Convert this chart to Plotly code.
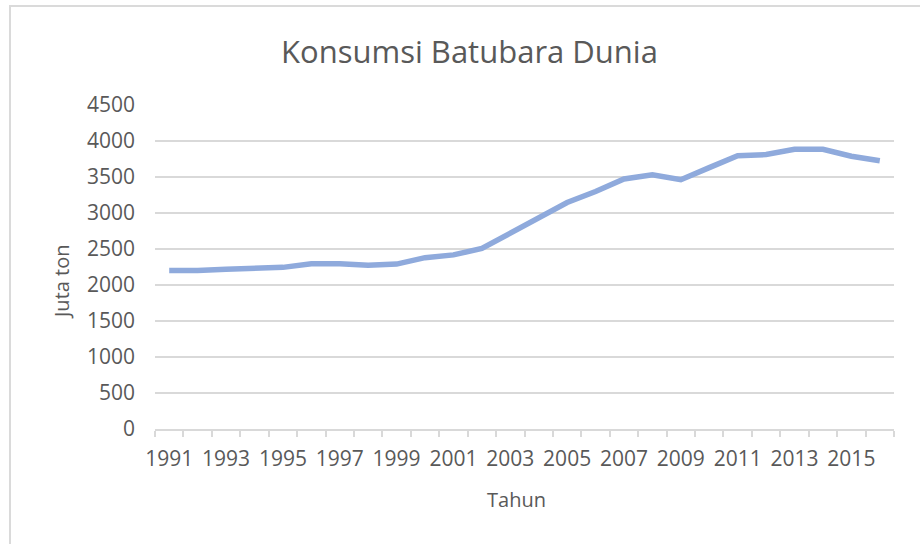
import plotly.graph_objects as go

years = list(range(1991, 2017))
consumption = [2200, 2200, 2220, 2225, 2245, 2295, 2295, 2275, 2290, 2380, 2418, 2508,
               2720, 2916, 3145, 3298, 3472, 3530, 3462, 3630, 3795, 3812, 3884, 3884,
               3788, 3725]
y_ticks = [0, 500, 1000, 1500, 2000, 2500, 3000, 3500, 4000, 4500]
x_label_years = list(range(1991, 2017, 2))

W, H = 920, 544
L, R, T, B = 155, 894, 105, 429
pw, ph = R - L, B - T

def px(x):
    return (x - L) / pw

def py(y):
    return (B - y) / ph

FONT = "Open Sans"
GREY = "#595959"

fig = go.Figure()
fig.add_trace(go.Scatter(
    x=years, y=consumption, mode="lines",
    line=dict(color="#8faadc", width=5.5, shape="linear"),
    hoverinfo="x+y", showlegend=False,
))

fig.update_layout(
    width=W, height=H,
    margin=dict(l=L, r=W - R, t=T, b=H - B, autoexpand=False),
    paper_bgcolor="white", plot_bgcolor="white",
    font=dict(family=FONT, color=GREY, size=18),
    title=dict(text="Konsumsi Batubara Dunia", x=469.5 / W, xanchor="center",
               y=1 - 52 / H, yanchor="middle",
               font=dict(family=FONT, size=31, color=GREY)),
    xaxis=dict(
        range=[1990.5, 2016.5], tickmode="array", tickvals=x_label_years,
        ticktext=[str(v) for v in x_label_years],
        ticks="", showgrid=False, zeroline=False,
        showline=True, linecolor="#d9d9d9", linewidth=2,
        tickfont=dict(family=FONT, size=21, color=GREY),
        ticklabelstandoff=10,
        minor=dict(tick0=1990.5, dtick=1, ticks="outside", ticklen=6,
                   tickcolor="#d9d9d9", tickwidth=2, showgrid=False),
    ),
    yaxis=dict(
        range=[0, 4500], tickmode="array", tickvals=y_ticks,
        ticktext=[str(v) for v in y_ticks],
        showgrid=True, gridcolor="#d9d9d9", gridwidth=2,
        zeroline=False, showline=False, ticks="",
        tickfont=dict(family=FONT, size=21, color=GREY),
        ticklabelstandoff=19,
    ),
    annotations=[
        dict(text="Juta ton", xref="paper", yref="paper", x=px(61), y=py(282),
             xanchor="center", yanchor="middle", textangle=-90, showarrow=False,
             font=dict(family=FONT, size=20, color=GREY)),
        dict(text="Tahun", xref="paper", yref="paper", x=px(516), y=py(499),
             xanchor="center", yanchor="middle", showarrow=False,
             font=dict(family=FONT, size=20, color=GREY)),
    ],
    shapes=[
        dict(type="rect", xref="paper", yref="paper",
             x0=px(10), x1=px(940), y0=py(580), y1=py(6),
             line=dict(color="#dadada", width=2), fillcolor="rgba(0,0,0,0)",
             layer="below"),
    ],
)

fig.write_html("out.html", config={"displayModeBar": False},
               post_script="document.body.style.margin='0';document.body.style.overflow='hidden';")
